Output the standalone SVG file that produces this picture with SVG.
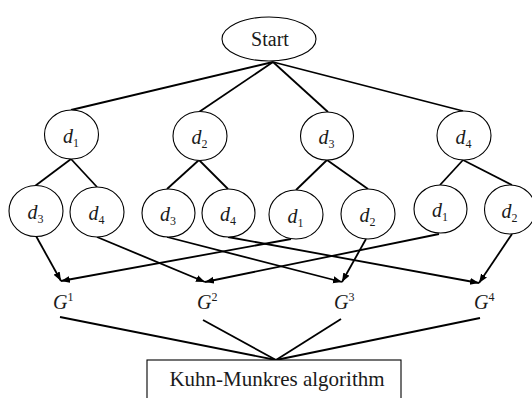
<svg xmlns="http://www.w3.org/2000/svg" width="532" height="398" viewBox="0 0 532 398" font-family="'Liberation Serif', 'DejaVu Serif', serif">
  <defs>
    <marker id="arrow" markerUnits="userSpaceOnUse" markerWidth="10" markerHeight="8" refX="9" refY="3.5" orient="auto">
      <path d="M0,0 L9,3.5 L0,7 z" fill="#000"/>
    </marker>
  </defs>
  <style>
    .node { fill: #fff; stroke: #000; stroke-width: 1.1; }
    .edge { stroke: #000; stroke-width: 1.8; fill: none; }
    .arr { stroke: #000; stroke-width: 1.8; fill: none; marker-end: url(#arrow); }
    text { font-family: 'Liberation Serif', 'DejaVu Serif', serif; fill: #1a1a1a; }
    .var { font-style: italic; font-size: 20px; }
    .idx { font-size: 12px; font-style: normal; }
  </style>

  <!-- tree edges and arrows -->
  <g id="connectors">
    <!-- Start to first level -->
    <line class="edge" x1="273" y1="62" x2="71" y2="110"/>
    <line class="edge" x1="273" y1="62" x2="199" y2="112"/>
    <line class="edge" x1="273" y1="62" x2="328" y2="112"/>
    <line class="edge" x1="273" y1="62" x2="463" y2="111"/>
    <!-- first level to second level -->
    <line class="edge" x1="71" y1="159" x2="35" y2="186"/>
    <line class="edge" x1="71" y1="159" x2="97" y2="187"/>
    <line class="edge" x1="199" y1="160" x2="167" y2="189"/>
    <line class="edge" x1="199" y1="160" x2="228" y2="189"/>
    <line class="edge" x1="327" y1="160" x2="296" y2="190"/>
    <line class="edge" x1="327" y1="160" x2="368" y2="189"/>
    <line class="edge" x1="463" y1="160" x2="440" y2="185"/>
    <line class="edge" x1="463" y1="160" x2="512" y2="185"/>
    <!-- leaves to G sets -->
    <line class="arr" x1="36" y1="236" x2="61" y2="281"/>
    <line class="arr" x1="97" y1="237" x2="205" y2="282"/>
    <line class="arr" x1="167" y1="237" x2="342" y2="282"/>
    <line class="arr" x1="228" y1="237" x2="479" y2="283"/>
    <line class="arr" x1="291" y1="239" x2="61" y2="281"/>
    <line class="arr" x1="366" y1="239" x2="342" y2="282"/>
    <line class="arr" x1="439" y1="234" x2="205" y2="282"/>
    <line class="arr" x1="512" y1="234" x2="479" y2="283"/>
    <!-- G sets to the assignment box -->
    <line class="edge" x1="60" y1="317" x2="276" y2="360"/>
    <line class="edge" x1="203" y1="320" x2="276" y2="360"/>
    <line class="edge" x1="341" y1="319" x2="276" y2="360"/>
    <line class="edge" x1="480" y1="318" x2="276" y2="360"/>
  </g>

  <g id="start">
    <ellipse class="node" cx="269" cy="39" rx="47" ry="22"/>
    <text x="270" y="46" font-size="20" text-anchor="middle">Start</text>
  </g>

  <!-- first level -->
  <g id="n-d1">
    <ellipse class="node" cx="71.5" cy="134.5" rx="27" ry="24.5"/>
    <text x="63" y="143"><tspan class="var">d</tspan><tspan class="idx" dy="4">1</tspan></text>
  </g>
  <g id="n-d2">
    <ellipse class="node" cx="200" cy="136" rx="27" ry="24.5"/>
    <text x="191.5" y="144"><tspan class="var">d</tspan><tspan class="idx" dy="4">2</tspan></text>
  </g>
  <g id="n-d3">
    <ellipse class="node" cx="327" cy="136" rx="26.5" ry="24"/>
    <text x="318.5" y="144"><tspan class="var">d</tspan><tspan class="idx" dy="4">3</tspan></text>
  </g>
  <g id="n-d4">
    <ellipse class="node" cx="464" cy="135.5" rx="27" ry="24.5"/>
    <text x="455.5" y="143.5"><tspan class="var">d</tspan><tspan class="idx" dy="4">4</tspan></text>
  </g>

  <!-- second level -->
  <g id="n-d1-d3">
    <ellipse class="node" cx="36" cy="211" rx="27" ry="25.5"/>
    <text x="27.5" y="219"><tspan class="var">d</tspan><tspan class="idx" dy="4">3</tspan></text>
  </g>
  <g id="n-d1-d4">
    <ellipse class="node" cx="97" cy="212" rx="27" ry="25"/>
    <text x="88.5" y="220"><tspan class="var">d</tspan><tspan class="idx" dy="4">4</tspan></text>
  </g>
  <g id="n-d2-d3">
    <ellipse class="node" cx="168.5" cy="213" rx="26.5" ry="24"/>
    <text x="160" y="221"><tspan class="var">d</tspan><tspan class="idx" dy="4">3</tspan></text>
  </g>
  <g id="n-d2-d4">
    <ellipse class="node" cx="228.5" cy="213" rx="26.5" ry="24"/>
    <text x="220" y="221"><tspan class="var">d</tspan><tspan class="idx" dy="4">4</tspan></text>
  </g>
  <g id="n-d3-d1">
    <ellipse class="node" cx="296" cy="214.5" rx="27" ry="24.5"/>
    <text x="287.5" y="222.5"><tspan class="var">d</tspan><tspan class="idx" dy="4">1</tspan></text>
  </g>
  <g id="n-d3-d2">
    <ellipse class="node" cx="368" cy="214" rx="27" ry="25"/>
    <text x="359.5" y="222"><tspan class="var">d</tspan><tspan class="idx" dy="4">2</tspan></text>
  </g>
  <g id="n-d4-d1">
    <ellipse class="node" cx="440.5" cy="209" rx="26.5" ry="24"/>
    <text x="432" y="217"><tspan class="var">d</tspan><tspan class="idx" dy="4">1</tspan></text>
  </g>
  <g id="n-d4-d2">
    <ellipse class="node" cx="510" cy="209.5" rx="25.5" ry="24.5"/>
    <text x="501.5" y="217.5"><tspan class="var">d</tspan><tspan class="idx" dy="4">2</tspan></text>
  </g>

  <!-- grouped sets -->
  <g id="g1">
    <text x="53" y="309"><tspan class="var">G</tspan><tspan class="idx" dy="-8">1</tspan></text>
  </g>
  <g id="g2">
    <text x="197" y="309"><tspan class="var">G</tspan><tspan class="idx" dy="-8">2</tspan></text>
  </g>
  <g id="g3">
    <text x="334" y="309"><tspan class="var">G</tspan><tspan class="idx" dy="-8">3</tspan></text>
  </g>
  <g id="g4">
    <text x="474" y="309"><tspan class="var">G</tspan><tspan class="idx" dy="-8">4</tspan></text>
  </g>

  <g id="kuhn-munkres">
    <rect x="147" y="360" width="254" height="50" fill="#fff" stroke="#000" stroke-width="1.1"/>
    <text x="277" y="386" font-size="21" text-anchor="middle">Kuhn-Munkres algorithm</text>
  </g>
</svg>
